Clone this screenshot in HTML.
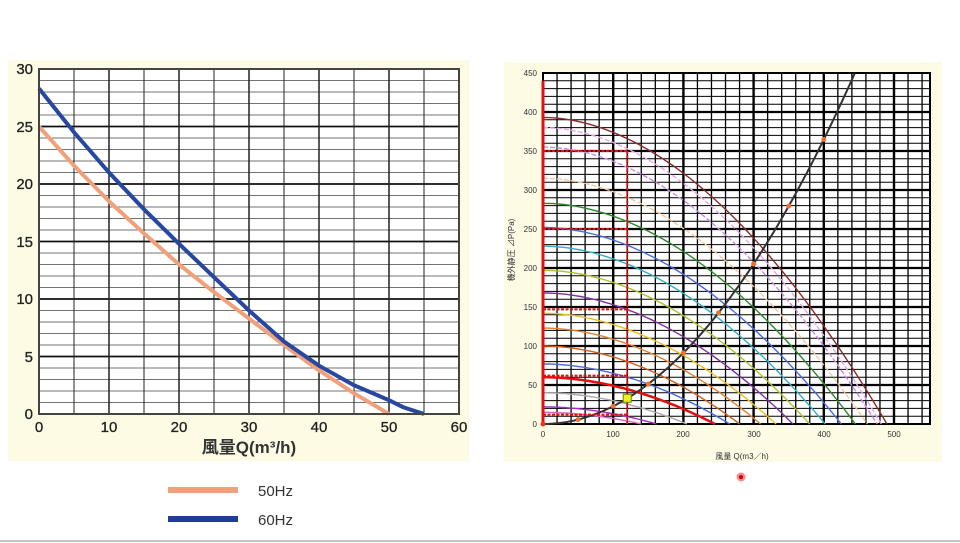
<!DOCTYPE html>
<html><head><meta charset="utf-8"><style>
html,body{margin:0;padding:0;background:#fff;width:960px;height:543px;overflow:hidden}
svg{display:block}
text{font-family:"Liberation Sans","Noto Sans CJK JP",sans-serif}
</style></head><body>
<svg id="s" width="960" height="543" viewBox="0 0 960 543" xmlns="http://www.w3.org/2000/svg">
<rect x="8" y="60" width="461" height="401" fill="#fdfbe4"/>
<rect x="504" y="62" width="438" height="400" fill="#fdfbe4"/>
<rect x="39" y="69" width="420" height="345" fill="#fff"/>
<rect x="543" y="73" width="387" height="351" fill="#fff"/>
<g id="lg"></g><g id="rg"></g>
<rect x="39" y="69" width="420" height="345" fill="none" stroke="#444" stroke-width="2"/>
<g font-size="15" fill="#222" text-anchor="end" stroke="#222" stroke-width="0.3">
<text x="33" y="74">30</text><text x="33" y="132">25</text><text x="33" y="189">20</text><text x="33" y="247">15</text><text x="33" y="304">10</text><text x="33" y="362">5</text><text x="33" y="419">0</text>
</g>
<g font-size="15" fill="#222" text-anchor="middle" stroke="#222" stroke-width="0.3">
<text x="39" y="432">0</text><text x="109" y="432">10</text><text x="179" y="432">20</text><text x="249" y="432">30</text><text x="319" y="432">40</text><text x="389" y="432">50</text><text x="459" y="432">60</text>
</g>
<text x="249" y="453" font-size="17" font-weight="bold" fill="#333" text-anchor="middle">風量Q(m³/h)</text>
<g font-size="8" fill="#333" text-anchor="end">
<text x="537" y="76">450</text><text x="537" y="115">400</text><text x="537" y="154">350</text><text x="537" y="193">300</text><text x="537" y="232">250</text><text x="537" y="271">200</text><text x="537" y="310">150</text><text x="537" y="349">100</text><text x="537" y="388">50</text><text x="537" y="427">0</text>
</g>
<g font-size="8" fill="#333" text-anchor="middle">
<text x="543" y="437">0</text><text x="613" y="437">100</text><text x="683" y="437">200</text><text x="754" y="437">300</text><text x="824" y="437">400</text><text x="894" y="437">500</text>
</g>
<text x="742" y="459" font-size="8" fill="#333" text-anchor="middle">風量 Q(m3／h)</text>
<text transform="translate(514,250) rotate(-90)" font-size="8" fill="#333" text-anchor="middle">機外静圧 ⊿P(Pa)</text>
<line x1="168" y1="490" x2="238" y2="490" stroke="#f0a07a" stroke-width="6"/>
<text x="258" y="496" font-size="15" fill="#333">50Hz</text>
<line x1="168" y1="519" x2="238" y2="519" stroke="#1f3c96" stroke-width="6"/>
<text x="258" y="525" font-size="15" fill="#333">60Hz</text>
<circle cx="741" cy="477" r="4.5" fill="#f88" />
<circle cx="741" cy="477" r="2" fill="#c00" />
<line x1="0" y1="541" x2="960" y2="541" stroke="#888" stroke-width="1"/>
</svg>
<script>
var NS="http://www.w3.org/2000/svg";
function el(p,t,a){var e=document.createElementNS(NS,t);for(var k in a)e.setAttribute(k,a[k]);p.appendChild(e);return e;}
var lg=document.getElementById('lg');
for(var v=1;v<30;v++){var y=414-v*11.5;el(lg,'line',{x1:39,x2:459,y1:y,y2:y,stroke:v%5?'#444':'#111','stroke-width':v%5?0.8:1.8});}
for(var q=5;q<60;q+=5){var x=39+q*7;el(lg,'line',{x1:x,x2:x,y1:69,y2:414,stroke:'#222','stroke-width':q%10?1:1.5});}
function lp(pts){return pts.map(function(p,i){return (i?'L':'M')+(39+p[0]*7)+' '+(414-p[1]*11.5)}).join('');}
el(lg,'path',{d:lp([[0,25],[5,21.6],[10,18.5],[15,15.7],[20,13],[25,10.6],[30,8.3],[35,6],[40,3.8],[45,1.8],[50,0]]),fill:'none',stroke:'#f0a07a','stroke-width':4});
el(lg,'path',{d:lp([[0,28.3],[5,24.5],[10,21],[15,17.8],[20,14.8],[25,11.9],[30,9],[35,6.3],[40,4.2],[45,2.5],[50,1.2],[52,0.6],[55,0]]),fill:'none',stroke:'#2747a0','stroke-width':4});
var rg=document.getElementById('rg');
function X(q){return 543+q*0.702}function Y(p){return 424-p*0.78}
for(var p=10;p<450;p+=10){el(rg,'line',{x1:543,x2:930,y1:Y(p),y2:Y(p),stroke:'#000','stroke-width':p%50?1:2.2});}
for(var q=20;q<=540;q+=20){if(q%100==0)continue;el(rg,'line',{x1:X(q),x2:X(q),y1:73,y2:424,stroke:'#000','stroke-width':1.3});}
for(var q=100;q<=500;q+=100){el(rg,'line',{x1:X(q),x2:X(q),y1:73,y2:424,stroke:'#000','stroke-width':2.4});}
el(rg,'rect',{x:543,y:73,width:387,height:351,fill:'none',stroke:'#000','stroke-width':2});
var C=[[393,490,'#8b2a2a',0],[380,482,'#e8a8e8',1],[355,476,'#c88ae8',1],[315,462,'#f5c89a',1],[283,445,'#2a8a2a',0],[252,425,'#4a6ae0',0],[228,402,'#30b0c8',0],[197,380,'#b0c030',0],[168,356,'#8030a0',0],[142,332,'#e8c020',0],[123,310,'#e08030',0],[100,280,'#d06020',0],[77,266,'#4a6ae0',0],[60,245,'#e01010',0],[40,205,'#aaaaaa',0],[22,162,'#a030c0',0],[15,140,'#e060c0',0]];
C.forEach(function(c){var d='';for(var i=0;i<=60;i++){var q=c[1]*i/60;var pp=c[0]*(1-Math.pow(q/c[1],1.9));d+=(i?'L':'M')+X(q).toFixed(1)+' '+Y(pp).toFixed(1);}
el(rg,'path',{d:d,fill:'none',stroke:c[2],'stroke-width':c[2]=='#e01010'?2.5:1.4,'stroke-dasharray':c[3]?'5 2':'none'});});
var d='';for(var q=0;q<=444;q+=4){d+=(q?'L':'M')+X(q).toFixed(1)+' '+Y(0.00228*q*q).toFixed(1);}
el(rg,'path',{d:d,fill:'none',stroke:'#333','stroke-width':2});
[50,100,150,200,250,300,350,400].forEach(function(q){el(rg,'circle',{cx:X(q),cy:Y(0.00228*q*q),r:2.5,fill:'#f07030'});});
el(rg,'line',{x1:X(0),x2:X(0),y1:Y(440),y2:424,stroke:'#e01010','stroke-width':3});
el(rg,'line',{x1:X(120),x2:X(120),y1:Y(350),y2:424,stroke:'#e01010','stroke-width':2,'stroke-dasharray':'3 1.5'});
[350,250,147,62,12].forEach(function(p){el(rg,'line',{x1:543,x2:X(120),y1:Y(p),y2:Y(p),stroke:'#e01010','stroke-width':2,'stroke-dasharray':'3 1.5'});});
el(rg,'rect',{x:X(120)-4,y:Y(33)-4,width:8,height:8,fill:'#f0f020',stroke:'#6a8a00','stroke-width':1});
el(rg,'circle',{cx:543,cy:424,r:2.5,fill:'#f03020'});
</script>
</body></html>
